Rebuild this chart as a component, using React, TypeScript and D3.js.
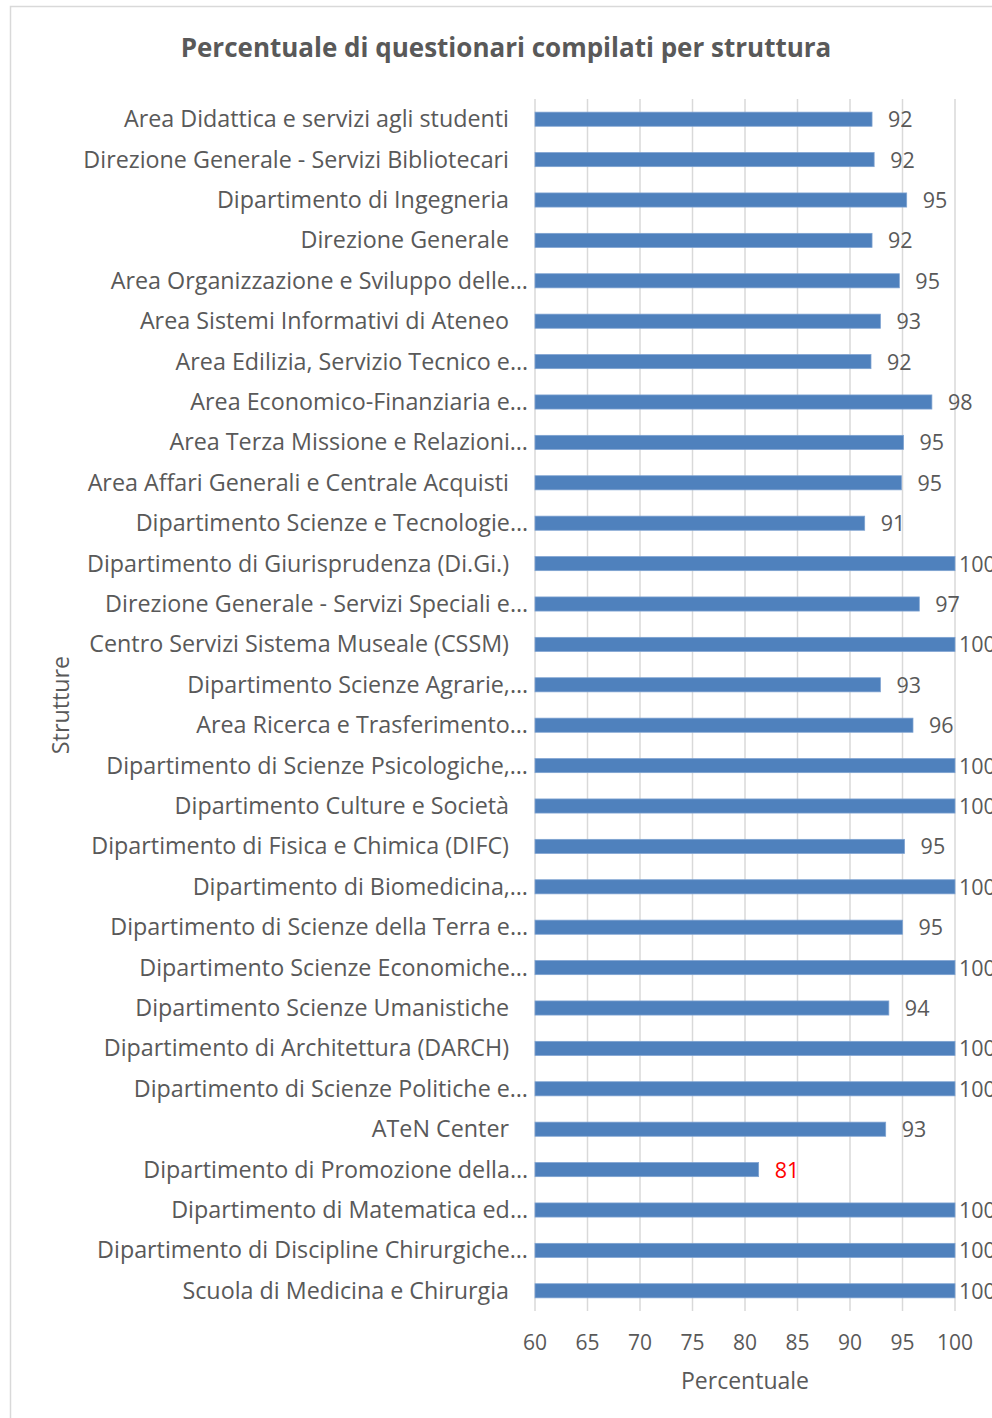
import React from "react";
import * as d3 from "d3";

const categories: string[] = [
  "Area Didattica e servizi agli studenti",
  "Direzione Generale - Servizi Bibliotecari",
  "Dipartimento di Ingegneria",
  "Direzione Generale",
  "Area Organizzazione e Sviluppo delle…",
  "Area Sistemi Informativi di Ateneo",
  "Area Edilizia, Servizio Tecnico e…",
  "Area Economico-Finanziaria e…",
  "Area Terza Missione e Relazioni…",
  "Area Affari Generali e Centrale Acquisti",
  "Dipartimento Scienze e Tecnologie…",
  "Dipartimento di Giurisprudenza (Di.Gi.)",
  "Direzione Generale - Servizi Speciali e…",
  "Centro Servizi Sistema Museale (CSSM)",
  "Dipartimento Scienze Agrarie,…",
  "Area Ricerca e Trasferimento…",
  "Dipartimento di Scienze Psicologiche,…",
  "Dipartimento Culture e Società",
  "Dipartimento di Fisica e Chimica (DIFC)",
  "Dipartimento di Biomedicina,…",
  "Dipartimento di Scienze della Terra e…",
  "Dipartimento Scienze Economiche…",
  "Dipartimento Scienze Umanistiche",
  "Dipartimento di Architettura (DARCH)",
  "Dipartimento di Scienze Politiche e…",
  "ATeN Center",
  "Dipartimento di Promozione della…",
  "Dipartimento di Matematica ed…",
  "Dipartimento di Discipline Chirurgiche…",
  "Scuola di Medicina e Chirurgia",
];

const values: number[] = [
  92.1, 92.3, 95.4, 92.1, 94.7, 92.9, 92.0, 97.8, 95.1, 94.9,
  91.4, 100, 96.6, 100, 92.9, 96.0, 100, 100, 95.2, 100,
  95.0, 100, 93.7, 100, 100, 93.4, 81.3, 100, 100, 100,
];

const xTicks: number[] = [60, 65, 70, 75, 80, 85, 90, 95, 100];

const FONT = "'Open Sans', sans-serif";
const TEXT = "#595959";

export default function App() {
  const x = d3.scaleLinear().domain([60, 100]).range([535, 955]);
  const y = d3.scaleBand<string>().domain(categories).range([99, 1311]).paddingInner(0.65).paddingOuter(0.325);
  const bw = y.bandwidth();
  return (
    <svg width={992} height={1418} style={{ position: "absolute", left: 0, top: 0 }} fontFamily={FONT}>
      <rect x={0} y={0} width={992} height={1418} fill="#fff" />
      <rect x={10.5} y={6.5} width={1100} height={1500} fill="#fff" stroke="#d9d9d9" strokeWidth={1.5} />
      <text x={506} y={57} textAnchor="middle" fontSize={26} fontWeight="bold" fill={TEXT}>
        Percentuale di questionari compilati per struttura
      </text>
      {xTicks.map((t) => (
        <line key={t} x1={x(t)} x2={x(t)} y1={99} y2={1311} stroke="#d9d9d9" strokeWidth={1.5} />
      ))}
      {xTicks.map((t) => (
        <text key={"t" + t} x={x(t)} y={1350} textAnchor="middle" fontSize={21} fill={TEXT}>
          {t}
        </text>
      ))}
      {categories.map((c, i) => {
        const v = values[i];
        const yc = (y(c) as number) + bw / 2;
        const trunc = c.endsWith("…");
        const lx = v >= 99.5 ? x(v) + 4 : x(v) + 16;
        return (
          <g key={c}>
            <rect x={x(60)} y={yc - bw / 2} width={x(v) - x(60)} height={bw} fill="#4f81bd" stroke="#7fa3d1" strokeWidth={0.75} />
            <text x={trunc ? 528 : 509} y={yc + 8} textAnchor="end" fontSize={23.3} fill={TEXT}>
              {c}
            </text>
            <text x={lx} y={yc + 8} fontSize={21.5} fill={i === 26 ? "#ff0000" : TEXT}>
              {Math.round(v)}
            </text>
          </g>
        );
      })}
      <text x={745} y={1389} textAnchor="middle" fontSize={23} fill={TEXT}>
        Percentuale
      </text>
      <text transform={`translate(69,705) rotate(-90)`} textAnchor="middle" fontSize={23.3} fill={TEXT}>
        Strutture
      </text>
    </svg>
  );
}
